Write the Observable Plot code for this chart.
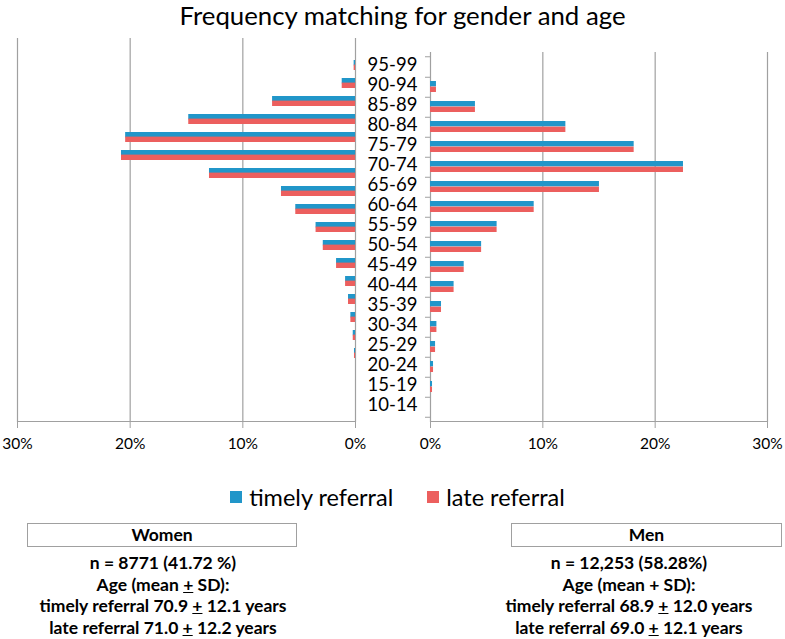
<!DOCTYPE html>
<html><head><meta charset="utf-8">
<script src="https://cdn.jsdelivr.net/npm/d3@7"></script>
<script src="https://cdn.jsdelivr.net/npm/@observablehq/plot@0.6"></script>
<style>
body{margin:0;background:#fff;font-family:Lato,"Open Sans",sans-serif;color:#000;}
#wrap{position:relative;width:785px;height:639px;overflow:hidden;}
#wrap svg{position:absolute;left:0;top:0;}
#title{position:absolute;left:0;top:0;width:805px;text-align:center;font-size:25.8px;line-height:30px;}
#legend{position:absolute;left:0;width:795px;top:483px;height:28px;display:flex;justify-content:center;align-items:center;font-size:23.5px;}
.sw{display:inline-block;width:12px;height:12px;margin-right:7px;}
.item{display:flex;align-items:center;margin:0 17px;}
.box{position:absolute;top:523px;height:22px;border:1px solid #a0a0a0;text-align:center;font-weight:bold;font-size:17.5px;line-height:22px;}
.info{position:absolute;top:552px;text-align:center;font-weight:bold;font-size:17.5px;line-height:21.6px;}
</style></head><body><div id="wrap"></div>
<script>
const ageGroups = ["95-99","90-94","85-89","80-84","75-79","70-74","65-69","60-64","55-59","50-54","45-49","40-44","35-39","30-34","25-29","20-24","15-19","10-14"];
const womenTimely = [0.12,1.18,7.36,14.8,20.4,20.77,12.96,6.57,5.3,3.5,2.86,1.68,0.88,0.62,0.41,0.2,0.09,0];
const womenLate   = [0.12,1.18,7.36,14.8,20.4,20.77,12.96,6.57,5.3,3.5,2.86,1.68,0.88,0.62,0.41,0.2,0.09,0];
const menTimely   = [0,0.53,4.0,12.05,18.13,22.52,15.04,9.23,5.93,4.55,3.0,2.1,0.98,0.57,0.45,0.27,0.18,0];
const menLate     = [0,0.53,4.0,12.05,18.13,22.52,15.04,9.23,5.93,4.55,3.0,2.1,0.98,0.57,0.45,0.27,0.18,0];
const xTicks = [0, 0.1, 0.2, 0.3];
const seriesNames = ["timely referral", "late referral"];
const colors = ["#2196c9", "#ec5f5e"];
const titleText = "Frequency matching for gender and age";
const womenInfo = {head: "Women", lines: ["n = 8771 (41.72 %)", "Age (mean <u>+</u> SD):", "timely referral 70.9 <u>+</u> 12.1 years", "late referral 71.0 <u>+</u> 12.2 years"]};
const menInfo = {head: "Men", lines: ["n = 12,253 (58.28%)", "Age (mean + SD):", "timely referral 68.9 <u>+</u> 12.0 years", "late referral 69.0 <u>+</u> 12.1 years"]};

const W = 785, H = 470;
const grid = "#a0a0a0";
const fmt = d => Math.round(d * 100) + "%";
const women = ageGroups.map((a, i) => ({age: a, timely: womenTimely[i] / 100, late: womenLate[i] / 100}));
const men = ageGroups.map((a, i) => ({age: a, timely: menTimely[i] / 100, late: menLate[i] / 100}));

const wrap = document.getElementById("wrap");
const style = {background: "transparent", fontFamily: "Lato, 'Open Sans', sans-serif", color: "#000", overflow: "visible"};

// Women (left, reversed)
const left = Plot.plot({
  width: W, height: H,
  marginLeft: 17, marginRight: W - 355, marginTop: 38, marginBottom: H - 421,
  style,
  x: {domain: [0, 0.3], reverse: true, label: null},
  y: {domain: ageGroups, range: [53, 382], paddingInner: 0.45, paddingOuter: 0.225, axis: null, label: null},
  marks: [
    Plot.ruleX(xTicks, {stroke: grid, strokeWidth: 1.2}),
    Plot.frame({anchor: "bottom", stroke: grid, strokeWidth: 1.2}),
    Plot.axisX(xTicks, {tickSize: 7, tickPadding: 9, tickFormat: fmt, stroke: grid, fontSize: 15.5, fill: "#000", label: null}),
    Plot.barX(women, {y: "age", x: "timely", fill: colors[0], insetBottom: 4.6}),
    Plot.barX(women, {y: "age", x: "late", fill: colors[1], insetTop: 4.6})
  ]
});

// Men (right)
const step = (421 - 52) / ageGroups.length;
const right = Plot.plot({
  width: W, height: H,
  marginLeft: 430, marginRight: W - 767, marginTop: 52, marginBottom: H - 421,
  style,
  x: {domain: [0, 0.3], label: null},
  y: {domain: ageGroups, paddingInner: 0.45, paddingOuter: 0.225, label: null},
  marks: [
    Plot.ruleX(xTicks, {stroke: grid, strokeWidth: 1.2}),
    Plot.frame({anchor: "bottom", stroke: grid, strokeWidth: 1.2}),
    Plot.axisX(xTicks, {tickSize: 7, tickPadding: 9, tickFormat: fmt, stroke: grid, fontSize: 15.5, fill: "#000", label: null}),
    Plot.axisY(ageGroups, {tickSize: 5, tickFormat: () => "", stroke: grid, dy: step / 2, label: null}),
    Plot.axisY([ageGroups[0]], {tickSize: 5, tickFormat: () => "", stroke: grid, dy: -step / 2, label: null}),
    Plot.barX(men, {y: "age", x: "timely", fill: colors[0], insetBottom: 5.6}),
    Plot.barX(men, {y: "age", x: "late", fill: colors[1], insetTop: 5.6}),
    Plot.text(ageGroups, {y: d => d, text: d => d, frameAnchor: "left", dx: -38, dy: -1.5, textAnchor: "middle", fontSize: 18.5, fill: "#000"})
  ]
});
// drop the empty tick-label nodes of the boundary-tick axes
d3.select(right).selectAll("text").filter(function () { return this.textContent === ""; }).remove();

wrap.appendChild(left);
wrap.appendChild(right);

const t = document.createElement("div");
t.id = "title"; t.textContent = titleText; wrap.appendChild(t);

const lg = document.createElement("div");
lg.id = "legend";
lg.innerHTML = seriesNames.map((s, i) => `<span class="item"><span class="sw" style="background:${colors[i]}"></span>${s}</span>`).join("");
wrap.appendChild(lg);

function infoBlock(info, boxLeft, boxWidth, textCenter) {
  const b = document.createElement("div");
  b.className = "box";
  b.style.left = boxLeft + "px"; b.style.width = boxWidth + "px";
  b.textContent = info.head;
  wrap.appendChild(b);
  const d = document.createElement("div");
  d.className = "info";
  d.style.left = (textCenter - 160) + "px"; d.style.width = "320px";
  d.innerHTML = info.lines.join("<br>");
  wrap.appendChild(d);
}
infoBlock(womenInfo, 27, 268, 163);
infoBlock(menInfo, 511, 269, 629);
</script>
</body></html>
